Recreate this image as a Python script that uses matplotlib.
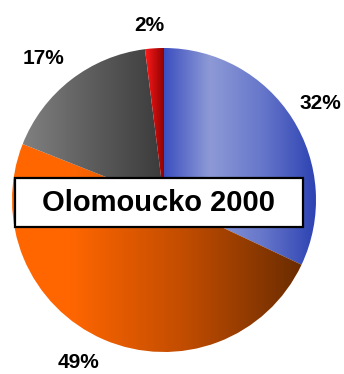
import numpy as np
import matplotlib
matplotlib.use("Agg")
import matplotlib.pyplot as plt
from matplotlib.colors import LinearSegmentedColormap
from matplotlib.patches import Rectangle

plt.rcParams["font.family"] = ["Liberation Sans", "DejaVu Sans"]

TITLE = "Olomoucko 2000"
SHARES = [32, 49, 17, 2]
LABELS = ["32%", "49%", "17%", "2%"]

# horizontal gradient stops for each slice (left -> right)
GRADIENTS = [
    [(0.0, "#3c4fc0"), (0.3, "#8e9ad6"), (0.65, "#6676ca"), (1.0, "#2e43b3")],
    [(0.0, "#ff6600"), (0.2, "#ff6600"), (0.6, "#c04c00"), (1.0, "#6a2c00")],
    [(0.0, "#808080"), (0.5, "#5c5c5c"), (1.0, "#3a3a3a")],
    [(0.0, "#ff1a1a"), (1.0, "#8a0000")],
]

# label positions in pixel coordinates (x, y from top)
LABEL_POS = [(320, 103), (78, 362), (44, 58), (149, 25)]

W, H = 344, 374
CX, CY, R = 164, 200, 152


def main():
    fig = plt.figure(figsize=(W / 100, H / 100), dpi=100)
    ax = fig.add_axes([0, 0, 1, 1])
    ax.set_xlim(0, W)
    ax.set_ylim(0, H)
    ax.set_aspect("equal")
    ax.axis("off")

    wedges, _ = ax.pie(SHARES, center=(CX, H - CY), radius=R,
                       startangle=90, counterclock=False,
                       wedgeprops=dict(linewidth=0, edgecolor="none"))
    ax.set_xlim(0, W)
    ax.set_ylim(0, H)

    grad = np.linspace(0, 1, 256).reshape(1, -1)
    for w, stops in zip(wedges, GRADIENTS):
        w.set_facecolor("none")
        bb = w.get_path().get_extents(w.get_transform())
        x0, y0 = ax.transData.inverted().transform((bb.x0, bb.y0))
        x1, y1 = ax.transData.inverted().transform((bb.x1, bb.y1))
        cmap = LinearSegmentedColormap.from_list("g", stops)
        im = ax.imshow(grad, cmap=cmap, aspect="auto",
                       extent=(x0, x1, y0, y1), zorder=1,
                       interpolation="bilinear")
        im.set_clip_path(w)

    for lab, (px, py) in zip(LABELS, LABEL_POS):
        ax.text(px, H - py, lab, ha="center", va="center",
                fontsize=15, fontweight="bold", color="black", zorder=5)

    ax.add_patch(Rectangle((15, H - 227), 288, 49, facecolor="white",
                           edgecolor="black", linewidth=1.6, zorder=4))
    ax.text(159, H - 203, TITLE, ha="center", va="center",
            fontsize=21, fontweight="bold", color="black", zorder=5)

    fig.savefig("out.png", dpi=100)


if __name__ == "__main__":
    main()
